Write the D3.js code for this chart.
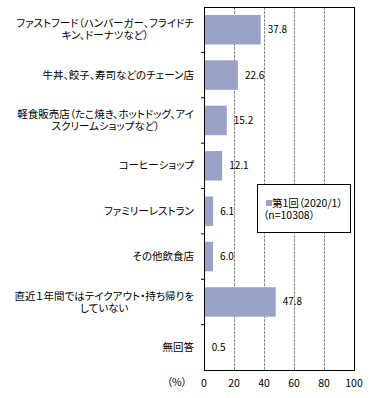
<!DOCTYPE html>
<html><head><meta charset="utf-8">
<script src="https://cdn.jsdelivr.net/npm/d3@7/dist/d3.min.js"></script>
<style>
html,body{margin:0;padding:0;background:#fff;}
svg{display:block;}
text{font-family:"Noto Sans CJK JP","Noto Sans",sans-serif;fill:#000;}
.lab{font-size:10.5px;font-feature-settings:"palt";}
</style></head>
<body>
<script>
const categories = [
  ["ファストフード（ハンバーガー、フライドチ","キン、ドーナツなど）"],
  ["牛丼、餃子、寿司などのチェーン店"],
  ["軽食販売店（たこ焼き、ホットドッグ、アイ","スクリームショップなど）"],
  ["コーヒーショップ"],
  ["ファミリーレストラン"],
  ["その他飲食店"],
  ["直近１年間ではテイクアウト・持ち帰りを","していない"],
  ["無回答"]
];
const values = [37.8, 22.6, 15.2, 12.1, 6.1, 6.0, 47.8, 0.5];
const xTicks = [0, 20, 40, 60, 80, 100];
const legendLines = ["第1回（2020/1）", "（n=10308）"];
const unitLabel = "（%）";

const W = 374, H = 398;
const m = {l: 204, r: 20, t: 7, b: 28};
const svg = d3.select("body").append("svg").attr("width", W).attr("height", H);

const x = d3.scaleLinear().domain([0, 100]).range([m.l, W - m.r]);
const y = d3.scaleBand().domain(d3.range(categories.length)).range([m.t, H - m.b]).paddingInner(0.35).paddingOuter(0.175);

// gridlines
svg.append("g").selectAll("line").data(xTicks.filter(d => d > 0 && d < 100)).join("line")
  .attr("x1", d => x(d) + 0.5).attr("x2", d => x(d) + 0.5)
  .attr("y1", m.t).attr("y2", H - m.b)
  .attr("stroke", "#8a8a8a").attr("stroke-width", 1).attr("stroke-dasharray", "3,1");

// bars
svg.append("g").selectAll("rect").data(values).join("rect")
  .attr("x", x(0)).attr("y", (d, i) => y(i))
  .attr("width", d => x(d) - x(0)).attr("height", y.bandwidth())
  .attr("fill", "#9aa2c8");

// value labels
svg.append("g").selectAll("text").data(values).join("text")
  .attr("x", d => x(d) + 7).attr("y", (d, i) => y(i) + y.bandwidth() / 2)
  .attr("dy", "0.35em").attr("font-size", "10px")
  .text(d => d.toFixed(1));

// frame
svg.append("rect").attr("x", x(0) + 0.5).attr("y", m.t + 0.5)
  .attr("width", x(100) - x(0)).attr("height", H - m.b - m.t)
  .attr("fill", "none").attr("stroke", "#000").attr("stroke-width", 1);

// category boundary ticks
const step = y.step();
svg.append("g").selectAll("line").data(d3.range(1, categories.length)).join("line")
  .attr("x1", x(0) - 3).attr("x2", x(0))
  .attr("y1", i => m.t + i * step).attr("y2", i => m.t + i * step)
  .attr("stroke", "#000");

// category labels
const labRight = 194;
const lg = svg.append("g");
categories.forEach((lines, i) => {
  const cy = y(i) + y.bandwidth() / 2;
  const t = lg.append("text").attr("class", "lab");
  const lh = 12;
  const spans = lines.map((s, k) => t.append("tspan")
    .attr("y", cy + (k - (lines.length - 1) / 2) * lh).attr("dy", "0.35em").text(s));
  if (lines.length === 1) {
    t.attr("text-anchor", "end"); spans[0].attr("x", labRight);
  } else {
    const maxW = d3.max(spans, s => s.node().getComputedTextLength());
    t.attr("text-anchor", "middle");
    spans.forEach(s => s.attr("x", labRight - maxW / 2));
  }
});

// x axis labels
svg.append("g").selectAll("text").data(xTicks).join("text")
  .attr("x", d => x(d)).attr("y", H - m.b + 13).attr("dy", "0.35em")
  .attr("text-anchor", "middle").attr("font-size", "10.5px").text(d => d);
svg.append("text").attr("class", "lab").attr("x", 187).attr("y", H - m.b + 12).attr("dy", "0.35em")
  .attr("text-anchor", "end").text(unitLabel);

// legend
const lgx = 257, lgy = 184, lgw = 93, lgh = 48;
svg.append("rect").attr("x", lgx + 0.5).attr("y", lgy + 0.5).attr("width", lgw).attr("height", lgh)
  .attr("fill", "#fff").attr("stroke", "#000");
svg.append("rect").attr("x", lgx + 9).attr("y", lgy + 16).attr("width", 6).attr("height", 6).attr("fill", "#9aa2c8");
svg.append("text").attr("class", "lab").attr("x", lgx + 15).attr("y", lgy + 19).attr("dy", "0.35em").text(legendLines[0]);
svg.append("text").attr("class", "lab").attr("x", lgx + 6).attr("y", lgy + 31).attr("dy", "0.35em").text(legendLines[1]);
</script>
</body></html>
